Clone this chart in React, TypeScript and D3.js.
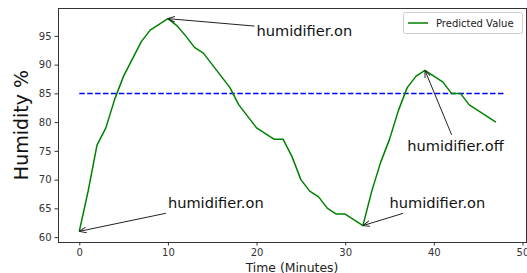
import React, { useEffect, useRef } from 'react';
import * as d3 from 'd3';

const minutes = d3.range(0, 48);
const humidity = [
  61, 68, 76, 79, 84, 88, 91, 94, 96, 97, 98, 96.8, 95, 93, 92, 90, 88, 86, 83, 81,
  79, 78, 77, 77, 74, 70, 68, 67, 65, 64, 64, 63, 62, 68, 73, 77, 82, 86, 88, 89,
  88, 87, 85, 85, 83, 82, 81, 80,
];
const threshold = 85;
const thresholdSpan = [0, 48];
const xTicks = [0, 10, 20, 30, 40, 50];
const yTicks = [60, 65, 70, 75, 80, 85, 90, 95];

// text position (data) -> arrow target (data)
const notes = [
  { label: 'humidifier.on', text: [20, 95], target: [10, 98] },
  { label: 'humidifier.on', text: [10, 65], target: [0, 61] },
  { label: 'humidifier.on', text: [35, 65], target: [32, 62] },
  { label: 'humidifier.off', text: [37, 75], target: [39, 89] },
];

const W = 527;
const H = 273;
const FONT = '"DejaVu Sans", sans-serif';

const App = () => {
  const ref = useRef<SVGSVGElement>(null);

  useEffect(() => {
    const svg = d3.select(ref.current);
    svg.selectAll('*').remove();

    const m = { left: 58, right: 1, top: 8, bottom: 31 };
    const x = d3.scaleLinear().domain([-2.4, 50.4]).range([m.left, W - m.right]);
    const y = d3.scaleLinear().domain([59.15, 99.85]).range([H - m.bottom, m.top]);

    svg.append('rect').attr('width', W).attr('height', H).attr('fill', '#fff');

    const defs = svg.append('defs');
    defs
      .append('marker')
      .attr('id', 'head')
      .attr('viewBox', '0 0 10 10')
      .attr('refX', 10)
      .attr('refY', 5)
      .attr('markerWidth', 7)
      .attr('markerHeight', 7)
      .attr('markerUnits', 'userSpaceOnUse')
      .attr('orient', 'auto')
      .append('path')
      .attr('d', 'M0,1 L10,5 L0,9')
      .attr('fill', 'none')
      .attr('stroke', '#222')
      .attr('stroke-width', 1.4);

    // axes
    const xAxis = svg
      .append('g')
      .attr('transform', `translate(0,${H - m.bottom})`)
      .call(d3.axisBottom(x).tickValues(xTicks).tickSize(3.5).tickSizeOuter(0).tickPadding(3));
    const yAxis = svg
      .append('g')
      .attr('transform', `translate(${m.left},0)`)
      .call(d3.axisLeft(y).tickValues(yTicks).tickSize(3.5).tickSizeOuter(0).tickPadding(3));
    [xAxis, yAxis].forEach((g) => {
      g.selectAll('text').attr('font-family', FONT).attr('font-size', 10).attr('fill', '#333');
      g.selectAll('line').attr('stroke', '#333');
      g.select('.domain').remove();
    });

    svg
      .append('rect')
      .attr('x', m.left + 0.5)
      .attr('y', m.top + 0.5)
      .attr('width', W - m.right - m.left)
      .attr('height', H - m.bottom - m.top)
      .attr('fill', 'none')
      .attr('stroke', '#333')
      .attr('stroke-width', 1);

    // threshold line
    svg
      .append('line')
      .attr('x1', x(thresholdSpan[0]))
      .attr('x2', x(thresholdSpan[1]))
      .attr('y1', y(threshold))
      .attr('y2', y(threshold))
      .attr('stroke', '#0000ff')
      .attr('stroke-width', 1.5)
      .attr('stroke-dasharray', '5.5,2.4');

    // series
    const line = d3
      .line<number>()
      .x((d, i) => x(minutes[i]))
      .y((d) => y(d));
    svg
      .append('path')
      .datum(humidity)
      .attr('d', line)
      .attr('fill', 'none')
      .attr('stroke', '#008000')
      .attr('stroke-width', 1.5)
      .attr('stroke-linejoin', 'round');

    // annotations
    notes.forEach((n) => {
      const t = svg
        .append('text')
        .attr('x', x(n.text[0]))
        .attr('y', y(n.text[1]))
        .attr('font-family', FONT)
        .attr('font-size', 14.6)
        .attr('fill', '#111')
        .text(n.label);
      const bb = (t.node() as SVGTextElement).getBBox();
      const cx = bb.x + bb.width / 2;
      const cy = bb.y + bb.height / 2;
      const tx = x(n.target[0]);
      const ty = y(n.target[1]);
      // start at bbox edge along the line center -> target
      const dx = tx - cx;
      const dy = ty - cy;
      const sx = dx !== 0 ? (bb.width / 2 + 2) / Math.abs(dx) : Infinity;
      const sy = dy !== 0 ? (bb.height / 2 + 2) / Math.abs(dy) : Infinity;
      const s = Math.min(sx, sy);
      svg
        .append('line')
        .attr('x1', cx + dx * s)
        .attr('y1', cy + dy * s)
        .attr('x2', tx)
        .attr('y2', ty)
        .attr('stroke', '#222')
        .attr('stroke-width', 1)
        .attr('marker-end', 'url(#head)');
    });

    // legend
    const lg = svg.append('g').attr('transform', `translate(403,12)`);
    lg.append('rect')
      .attr('x', 0.5)
      .attr('y', 0.5)
      .attr('width', 119)
      .attr('height', 21)
      .attr('rx', 2)
      .attr('fill', '#fff')
      .attr('fill-opacity', 0.8)
      .attr('stroke', '#ccc');
    lg.append('line')
      .attr('x1', 5)
      .attr('x2', 25)
      .attr('y1', 11)
      .attr('y2', 11)
      .attr('stroke', '#008000')
      .attr('stroke-width', 1.5);
    lg.append('text')
      .attr('x', 33)
      .attr('y', 14.5)
      .attr('font-family', FONT)
      .attr('font-size', 10)
      .attr('fill', '#222')
      .text('Predicted Value');

    // axis labels
    svg
      .append('text')
      .attr('x', (m.left + W - m.right) / 2)
      .attr('y', 271.5)
      .attr('text-anchor', 'middle')
      .attr('font-family', FONT)
      .attr('font-size', 12.4)
      .attr('fill', '#222')
      .text('Time (Minutes)');
    svg
      .append('text')
      .attr('transform', `translate(28,${(m.top + H - m.bottom) / 2}) rotate(-90)`)
      .attr('text-anchor', 'middle')
      .attr('font-family', FONT)
      .attr('font-size', 19)
      .attr('fill', '#111')
      .text('Humidity %');
  }, []);

  return (
    <svg
      ref={ref}
      width={W}
      height={H}
      style={{ position: 'fixed', left: 0, top: 0, display: 'block' }}
    />
  );
};

export default App;
